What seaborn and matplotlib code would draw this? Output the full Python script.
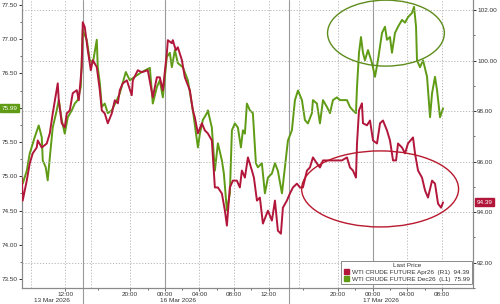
import matplotlib
matplotlib.use("Agg")
import matplotlib.pyplot as plt
import seaborn as sns
import pandas as pd
from matplotlib.patches import Ellipse, Patch
from matplotlib import transforms
from matplotlib.ticker import FixedLocator, MultipleLocator, NullFormatter

# ---------------- data (session hours relative to 16 Mar 00:00) ----------------
dec26_hours = [-16.53, -16.42, -15.95, -15.61, -15.03, -14.57, -14.22, -14.10, -13.76, -13.53,
               -13.29, -12.95, -12.49, -12.25, -11.91, -11.56, -11.21, -10.75, -10.40, -10.06,
               -9.71, -9.48, -9.36, -9.02, -8.67, -8.32, -7.86, -7.75, -7.51, -7.28,
               -6.94, -6.59, -6.13, -5.55, -5.20, -4.86, -4.51, -4.05, -3.47, -2.66,
               -1.73, -1.39, -0.92, -0.58, -0.23, 0.23, 0.58, 0.81, 1.16, 1.50,
               2.08, 2.66, 3.24, 3.82, 4.05, 4.39, 4.86, 4.97, 5.43, 5.78,
               6.13, 6.59, 6.82, 7.17, 7.51, 7.75, 8.09, 8.44, 8.79, 9.02,
               9.25, 9.48, 9.83, 10.17, 10.52, 10.75, 11.21, 11.56, 11.91, 12.37,
               12.72, 13.06, 13.53, 13.87, 14.22, 14.68, 15.03, 15.38, 15.84, 16.18,
               16.53, 16.99, 17.11, 17.57, 17.92, 18.27, 18.73, 19.08, 19.42, 19.88,
               20.23, 20.58, 21.04, 21.39, 21.73, 22.08, 22.20, 22.43, 22.66, 22.89,
               23.12, 23.47, 23.93, 24.28, 24.62, 25.09, 25.43, 25.66, 26.01, 26.24,
               26.59, 26.94, 27.40, 27.75, 28.09, 28.55, 28.79, 29.02, 29.13, 29.48,
               29.83, 30.29, 30.64, 30.87, 31.21, 31.45, 31.79, 32.14]
dec26_price = [75.04, 74.89, 75.08, 75.33, 75.57, 75.74, 75.57, 75.23, 75.13, 74.94,
               75.27, 75.71, 75.96, 76.11, 75.82, 75.62, 75.86, 75.96, 76.06, 76.11,
               76.30, 77.13, 77.09, 76.99, 76.69, 76.65, 76.99, 76.59, 76.36, 76.01,
               76.06, 75.92, 75.96, 76.11, 76.21, 76.36, 76.52, 76.40, 76.45, 76.52,
               76.58, 76.06, 76.30, 76.40, 76.15, 76.74, 76.80, 76.59, 76.84, 76.65,
               76.59, 76.40, 75.96, 75.42, 75.62, 75.82, 75.92, 75.96, 75.71, 75.08,
               75.48, 75.23, 75.04, 74.50, 74.75, 75.67, 75.77, 75.71, 75.42, 75.67,
               75.62, 76.06, 75.96, 75.92, 75.19, 75.13, 75.19, 74.75, 74.98, 75.04,
               75.19, 75.08, 74.75, 75.13, 75.52, 75.67, 76.11, 76.25, 76.11, 75.82,
               75.77, 75.92, 76.11, 76.06, 75.77, 76.11, 76.01, 75.92, 76.11, 76.15,
               76.11, 76.11, 76.11, 76.01, 75.96, 75.92, 76.30, 76.80, 77.03, 76.80,
               76.69, 76.84, 76.65, 76.45, 76.69, 77.09, 77.18, 76.99, 77.03, 76.80,
               77.09, 77.18, 77.28, 77.24, 77.32, 77.38, 77.47, 77.18, 76.69, 76.59,
               76.69, 76.45, 75.86, 76.21, 76.45, 76.25, 75.86, 75.99]

apr26_hours = [-16.53, -16.42, -15.95, -15.61, -15.26, -14.80, -14.68, -14.22, -13.64, -13.29,
               -12.95, -12.37, -12.25, -11.91, -11.56, -11.33, -10.98, -10.64, -10.17, -9.94,
               -9.60, -9.48, -9.25, -8.90, -8.55, -8.32, -7.86, -7.51, -7.28, -6.94,
               -6.59, -6.13, -5.78, -5.43, -5.20, -4.86, -4.39, -3.82, -3.70, -3.12,
               -2.66, -1.97, -1.39, -0.92, -0.58, -0.23, 0.23, 0.35, 0.81, 0.92,
               1.27, 1.50, 1.97, 2.31, 2.89, 3.24, 3.47, 3.82, 4.28, 4.62,
               4.97, 5.43, 5.78, 6.13, 6.59, 6.94, 7.17, 7.51, 7.86, 8.32,
               8.67, 8.90, 9.25, 9.60, 10.06, 10.29, 10.64, 10.98, 11.33, 11.91,
               12.37, 12.72, 13.06, 13.41, 13.64, 14.10, 14.45, 14.80, 15.26, 15.61,
               15.95, 16.42, 16.76, 17.11, 17.57, 17.92, 18.27, 19.08, 19.42, 19.88,
               20.46, 21.04, 21.39, 21.73, 22.08, 22.20, 22.43, 22.77, 22.89, 23.35,
               23.70, 24.05, 24.51, 24.86, 25.20, 25.66, 26.01, 26.36, 26.71, 26.94,
               27.40, 27.75, 28.09, 28.67, 28.90, 29.25, 29.71, 30.06, 30.40, 30.87,
               31.21, 31.56, 31.91, 32.14]
apr26_price = [95.37, 94.46, 95.25, 95.93, 96.33, 96.56, 96.84, 96.56, 96.72, 97.12,
               97.91, 99.10, 98.43, 97.52, 97.36, 97.91, 98.03, 98.71, 98.83, 98.43,
               99.74, 101.52, 101.33, 100.41, 99.62, 100.02, 99.74, 98.83, 98.03, 97.91,
               97.52, 97.91, 98.43, 98.31, 98.83, 99.10, 99.22, 98.63, 99.22, 99.62,
               99.54, 99.62, 98.55, 99.34, 99.34, 98.83, 100.29, 100.81, 100.69, 100.81,
               100.41, 100.53, 100.02, 99.34, 98.83, 98.03, 97.75, 97.12, 97.52, 97.24,
               97.12, 96.84, 94.98, 94.98, 94.74, 94.06, 93.47, 94.98, 95.25, 95.25,
               94.98, 95.65, 95.37, 96.17, 95.65, 95.37, 94.46, 94.58, 93.55, 94.06,
               93.67, 94.46, 93.27, 93.15, 94.18, 94.46, 94.74, 94.98, 95.13, 94.98,
               94.98, 95.65, 95.77, 96.17, 95.93, 95.77, 96.05, 96.05, 96.05, 96.05,
               96.05, 96.17, 95.77, 95.65, 95.37, 96.72, 98.03, 98.31, 97.52, 97.44,
               97.63, 96.84, 96.72, 97.52, 97.63, 97.24, 96.84, 96.05, 96.05, 96.72,
               96.56, 96.33, 96.72, 96.96, 96.33, 95.65, 95.37, 94.86, 94.58, 95.25,
               95.13, 94.34, 94.18, 94.39]

time_tick_hours = [-11.5, -4, 0, 4, 8, 12, 20, 24, 28, 32]
time_tick_labels = ["12:00", "20:00", "00:00", "04:00", "08:00",
                    "12:00", "20:00", "00:00", "04:00", "08:00"]
extra_grid_hours = [-15.5, -8.5, 15.5]
midnight_hours = [0, 24]
date_break_hours = [-9.5, 14.3]
date_label_hours = [-13.0, 1.5, 25.0]
date_labels = ["13 Mar 2026", "16 Mar 2026", "17 Mar 2026"]
left_ticks = [73.5, 74.0, 74.5, 75.0, 75.5, 76.0, 76.5, 77.0, 77.5]
right_ticks = [92, 94, 96, 98, 100, 102]
last_dec26 = 75.99
last_apr26 = 94.39
legend_title = "Last Price"
apr26_label = "WTI CRUDE FUTURE Apr26  (R1)  94.39"
dec26_label = "WTI CRUDE FUTURE Dec26  (L1)  75.99"

# ---------------- style ----------------
GREEN = "#5f9b15"
RED = "#b2173b"
sns.set_theme(style="white")
plt.rcParams["font.family"] = ["Liberation Sans", "DejaVu Sans"]
FS = 4.6
TXT = "#333333"

dec = pd.DataFrame({"h": dec26_hours, "p": dec26_price})
apr = pd.DataFrame({"h": apr26_hours, "p": apr26_price})

fig = plt.figure(figsize=(5.0, 3.04), dpi=100)
ax = fig.add_axes([22 / 500, 1 - 288 / 304, 451 / 500, 288 / 304])
ax2 = ax.twinx()

sns.lineplot(data=dec, x="h", y="p", ax=ax, color=GREEN, lw=1.4, zorder=3)
sns.lineplot(data=apr, x="h", y="p", ax=ax2, color=RED, lw=1.4, zorder=3)

ax.set_xlim(-16.5, 35.6)
ax.set_ylim(73.37, 77.57)
ax2.set_ylim(91.0, 102.4)
for a in (ax, ax2):
    a.set_xlabel("")
    a.set_ylabel("")

# spines
for a in (ax, ax2):
    a.spines["top"].set_visible(False)
    for s in ("left", "right", "bottom"):
        a.spines[s].set_color("#8a8a8a")
        a.spines[s].set_linewidth(0.8)

# y ticks
ax.yaxis.set_major_locator(FixedLocator(left_ticks))
ax.yaxis.set_minor_locator(MultipleLocator(0.25))
ax.set_yticklabels([f"{v:.2f}" for v in left_ticks])
ax2.yaxis.set_major_locator(FixedLocator(right_ticks))
ax2.yaxis.set_minor_locator(MultipleLocator(1.0))
ax2.set_yticklabels([f"{v:.2f}" for v in right_ticks])
for a in (ax, ax2):
    a.tick_params(axis="y", which="major", direction="out", length=2, width=0.7,
                  colors=TXT, labelsize=FS, pad=1)
    a.tick_params(axis="y", which="minor", direction="out", length=1.2, width=0.5,
                  colors=TXT)
ax.tick_params(axis="y", left=True, right=False, which="both")
ax2.tick_params(axis="y", right=True, left=False, which="both")

# x ticks
ax.xaxis.set_major_locator(FixedLocator(time_tick_hours))
ax.set_xticklabels(time_tick_labels)
mids = [(a + b) / 2 for a, b in zip(time_tick_hours[:-1], time_tick_hours[1:])]
ax.xaxis.set_minor_locator(FixedLocator(mids))
ax.xaxis.set_minor_formatter(NullFormatter())
ax.tick_params(axis="x", which="major", direction="out", length=2, width=0.5,
               colors=TXT, labelsize=FS, pad=0.8, bottom=True)
ax.tick_params(axis="x", which="minor", direction="out", length=1.2, width=0.5,
               colors=TXT, bottom=True)
ax2.tick_params(axis="x", bottom=False, labelbottom=False)

# grid
for yv in right_ticks:
    ax2.axhline(yv, color="#b0b0b0", lw=0.6, ls=(0, (1.5, 2)), zorder=0)
for xv in list(time_tick_hours) + extra_grid_hours:
    if xv in midnight_hours:
        continue
    ax.axvline(xv, color="#b0b0b0", lw=0.6, ls=(0, (1.5, 2)), zorder=0)
for xv in midnight_hours:
    ax.axvline(xv, color="#9a9a9a", lw=0.8, zorder=0)
for xv in date_break_hours:
    ax.axvline(xv, ymin=-0.06, ymax=1, color="#9a9a9a", lw=0.8, zorder=0,
               clip_on=False)

# date labels
dtrans = transforms.blended_transform_factory(ax.transData, ax.transAxes)
for h, lab in zip(date_label_hours, date_labels):
    ax.text(h, -0.043, lab, transform=dtrans, ha="center", va="center",
            fontsize=FS, color=TXT)

# ellipses (annotations)
ax2.add_patch(Ellipse((0.807, 0.885), 0.259, 0.229, transform=ax2.transAxes,
                      fill=False, edgecolor="#5d8c1c", lw=1.0, zorder=5, clip_on=False))
ax2.add_patch(Ellipse((0.794, 0.344), 0.348, 0.264, transform=ax2.transAxes,
                      fill=False, edgecolor="#b8192e", lw=1.0, zorder=5, clip_on=False))

# last-price tags
ltrans = transforms.blended_transform_factory(fig.transFigure, ax.transData)
ax.text(0.003, last_dec26, f"{last_dec26:.2f}", transform=ltrans, ha="left",
        va="center", fontsize=FS, color="white", zorder=10, clip_on=False,
        bbox=dict(boxstyle="square,pad=0.25", fc=GREEN, ec=GREEN))
rtrans = transforms.blended_transform_factory(fig.transFigure, ax2.transData)
ax2.text(0.954, last_apr26, f"{last_apr26:.2f}", transform=rtrans, ha="left",
         va="center", fontsize=FS, color="white", zorder=10, clip_on=False,
         bbox=dict(boxstyle="square,pad=0.25", fc=RED, ec=RED))

# legend
handles = [Patch(facecolor=RED, edgecolor=RED), Patch(facecolor=GREEN, edgecolor=GREEN)]
leg = ax2.legend(handles, [apr26_label, dec26_label], title=legend_title,
                 loc="lower right", bbox_to_anchor=(0.998, 0.014), borderaxespad=0,
                 fontsize=FS, title_fontsize=FS, handlelength=0.9, handleheight=0.9,
                 handletextpad=0.4, labelspacing=0.15, borderpad=0.35,
                 fancybox=False, framealpha=1, edgecolor="#8a8a8a")
leg.get_frame().set_linewidth(0.7)
for t in leg.get_texts():
    t.set_color(TXT)
leg.get_title().set_color(TXT)
leg.set_zorder(20)

fig.savefig("out.png", dpi=100)
